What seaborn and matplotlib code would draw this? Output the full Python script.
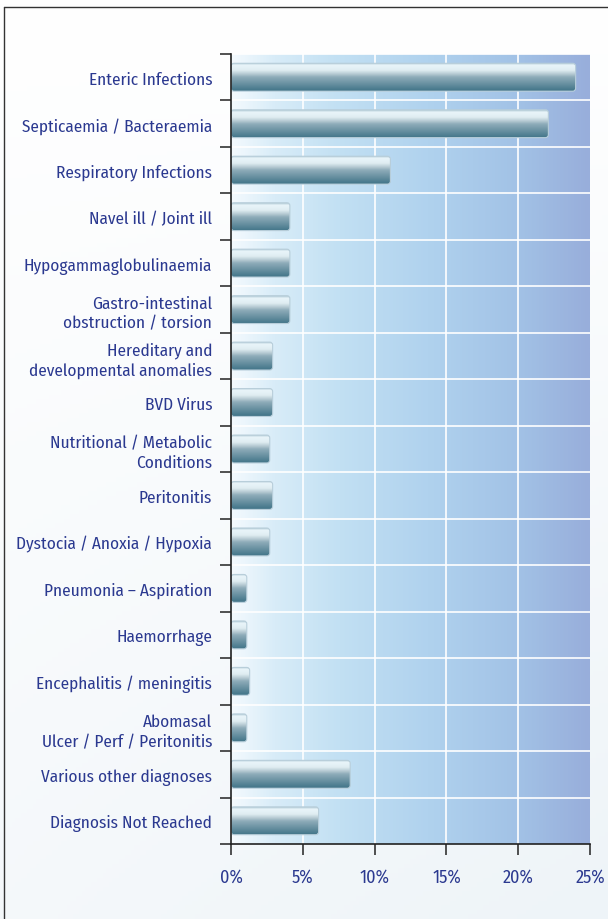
import numpy as np
import pandas as pd
import matplotlib
matplotlib.use("Agg")
import matplotlib.pyplot as plt
import seaborn as sns
from matplotlib.patches import FancyBboxPatch
from matplotlib.colors import LinearSegmentedColormap, to_rgb
from matplotlib.lines import Line2D

categories = [
    "Enteric Infections",
    "Septicaemia / Bacteraemia",
    "Respiratory Infections",
    "Navel ill / Joint ill",
    "Hypogammaglobulinaemia",
    "Gastro-intestinal\nobstruction / torsion",
    "Hereditary and\ndevelopmental anomalies",
    "BVD Virus",
    "Nutritional / Metabolic\nConditions",
    "Peritonitis",
    "Dystocia / Anoxia / Hypoxia",
    "Pneumonia \u2013 Aspiration",
    "Haemorrhage",
    "Encephalitis / meningitis",
    "Abomasal\nUlcer / Perf / Peritonitis",
    "Various other diagnoses",
    "Diagnosis Not Reached",
]
values = [24.0, 22.1, 11.1, 4.1, 4.1, 4.1, 2.9, 2.9, 2.7, 2.9, 2.7, 1.1, 1.1, 1.3, 1.1, 8.3, 6.1]
xticks = [0, 5, 10, 15, 20, 25]
xticklabels = ["0%", "5%", "10%", "15%", "20%", "25%"]

sns.set_theme(style="white")
plt.rcParams["font.family"] = ["Fira Sans Condensed", "PT Sans Narrow", "Roboto Condensed", "DejaVu Sans"]

TEXT = "#2b3990"

fig = plt.figure(figsize=(6.08, 9.20), dpi=100)

# figure background
bg = fig.add_axes([0, 0, 1, 1], zorder=-10)
gy, gx = np.mgrid[0:1:200j, 0:1:200j]
t = np.clip(0.6 * gy + 0.4 * gx * gy, 0, 1)
c0 = np.array(to_rgb("#ffffff"))
c1 = np.array(to_rgb("#eef4f8"))
img = c0[None, None, :] * (1 - t[..., None]) + c1[None, None, :] * t[..., None]
bg.imshow(img, extent=(0, 1, 0, 1), aspect="auto", origin="upper")
bg.set_xlim(0, 1)
bg.set_ylim(0, 1)
bg.axis("off")
bg.add_line(Line2D([4 / 608, 4 / 608], [0, 1 - 8 / 920], color="#333333", lw=1.0))
bg.add_line(Line2D([4 / 608, 1], [1 - 8 / 920, 1 - 8 / 920], color="#333333", lw=1.0))

ax = fig.add_axes([231 / 608, 1 - 845 / 920, (590 - 231) / 608, (845 - 55) / 920])
df = pd.DataFrame({"cat": categories, "val": values})
sns.barplot(data=df, x="val", y="cat", orient="h", width=0.6, color="#4a7c90", ax=ax)

n = len(categories)
ax.set_xlim(0, 25)
ax.set_ylim(n - 0.5, -0.5)

# plot background gradient
bgcmap = LinearSegmentedColormap.from_list(
    "bgc", [(0.0, "#f4fafe"), (0.12, "#d8ecf8"), (0.3, "#c2e0f3"),
            (0.55, "#b0d2ee"), (0.8, "#a2c2e6"), (1.0, "#98aedb")])
grad = np.linspace(0, 1, 400)[None, :].repeat(2, axis=0)
ax.imshow(grad, cmap=bgcmap, extent=(0, 25, n - 0.5, -0.5),
          aspect="auto", zorder=0, interpolation="bilinear")

# bar gradient
barcmap = LinearSegmentedColormap.from_list(
    "barc", [(0.0, "#b5cdd8"), (0.07, "#e9f5fa"), (0.25, "#e0edf2"),
             (0.40, "#b2c7d0"), (0.5, "#8eacb9"), (1.0, "#417488")])
vgrad = np.linspace(0, 1, 100)[:, None]
px_x = 359 / 25.0
px_y = 790 / n
r = 3.0
for p in list(ax.patches):
    x0, y0 = p.get_x(), p.get_y()
    w, h = p.get_width(), p.get_height()
    p.set_visible(False)
    fb = FancyBboxPatch((x0, y0), w, h,
                        boxstyle=f"round,pad=0,rounding_size={r / px_x}",
                        mutation_aspect=(px_x / px_y),
                        facecolor="none", edgecolor="#b8ceda", lw=0.8, zorder=3)
    ax.add_patch(fb)
    im = ax.imshow(vgrad, cmap=barcmap, extent=(x0, x0 + w, y0 + h, y0),
                   aspect="auto", zorder=2, interpolation="bilinear")
    im.set_clip_path(fb)

ax.set_xlim(0, 25)
ax.set_ylim(n - 0.5, -0.5)

# grid
ax.set_yticks(np.arange(-0.5, n, 1.0), minor=True)
ax.set_xticks(xticks)
ax.set_xticklabels(xticklabels)
ax.grid(False)
for xv in xticks[1:-1]:
    ax.axvline(xv, color="white", lw=1.2, zorder=1)
for yv in np.arange(-0.5, n - 0.5, 1.0):
    ax.axhline(yv, color="white", lw=1.2, zorder=1)

ax.set_xlabel("")
ax.set_ylabel("")
for s in ["top", "right"]:
    ax.spines[s].set_visible(False)
for s in ["left", "bottom"]:
    ax.spines[s].set_color("#222222")
    ax.spines[s].set_linewidth(1.2)
    ax.spines[s].set_zorder(5)

ax.tick_params(axis="y", which="major", length=0, pad=13.5, labelsize=12.4, labelcolor=TEXT)
ax.tick_params(axis="y", which="minor", length=8, width=1.1, color="#222222", direction="out", left=True)
ax.tick_params(axis="x", which="major", length=8, width=1.1, color="#222222", direction="out",
               bottom=True, pad=9, labelsize=13, labelcolor=TEXT)
for lab in ax.get_yticklabels():
    lab.set_linespacing(1.3)
    lab.set_ha("right")

fig.savefig("out.png", dpi=100)
